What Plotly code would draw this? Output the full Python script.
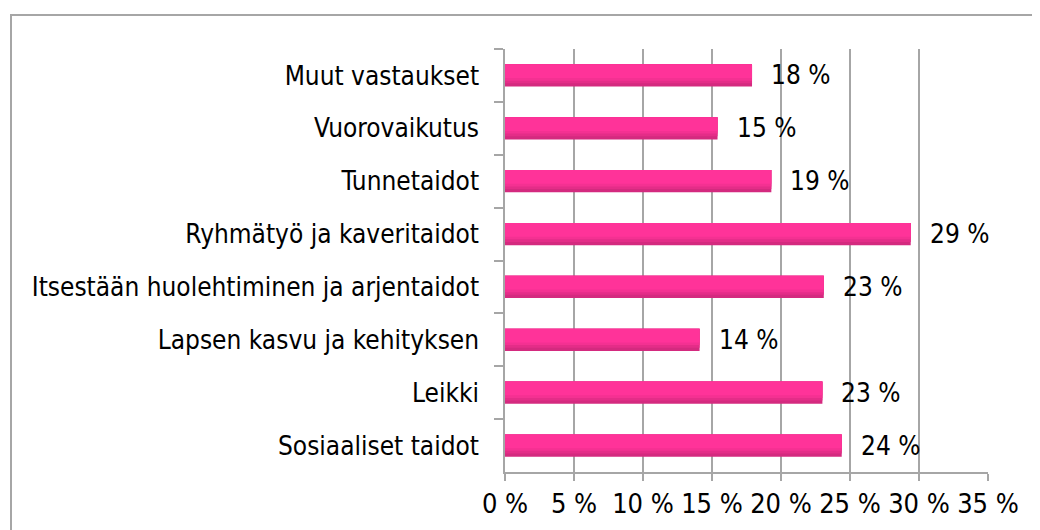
import plotly.graph_objects as go

categories = ["Muut vastaukset", "Vuorovaikutus", "Tunnetaidot", "Ryhmätyö ja kaveritaidot",
              "Itsestään huolehtiminen ja arjentaidot", "Lapsen kasvu ja kehityksen",
              "Leikki", "Sosiaaliset taidot"]
values = [0.179, 0.154, 0.193, 0.294, 0.231, 0.141, 0.230, 0.244]
tick_vals = [0, 0.05, 0.10, 0.15, 0.20, 0.25, 0.30, 0.35]
tick_text = ["0 %", "5 %", "10 %", "15 %", "20 %", "25 %", "30 %", "35 %"]
labels = [f"{round(v * 100)} %" for v in values]

FONT = "DejaVu Sans Condensed, DejaVu Sans, sans-serif"
GREY = "#A6A6A6"

W, H = 1040, 530
OFF = 8  # page body margin
L, R, T, B = 505 - OFF, W - (988 - OFF), 49 - OFF, H - (472 - OFF)
pw, ph = W - L - R, H - T - B

fig = go.Figure()
# gradient-like bar layers (dark base, brighter top parts)
layers = [("#D42A7F", 0.42), ("#E42D88", 0.36), ("#F43192", 0.31), ("#FF3399", 0.26)]
for col, wdt in layers:
    fig.add_trace(go.Bar(
        y=categories, x=values, orientation="h",
        marker=dict(color=col, line=dict(width=0)),
        width=wdt, offset=-0.21, hoverinfo="skip",
    ))

for c, v, t in zip(categories, values, labels):
    fig.add_annotation(x=v, y=c, text=t, showarrow=False, xanchor="left",
                       xshift=17, font=dict(family=FONT, size=26, color="#000"))

def px2x(p):
    return (p - OFF - L) / pw

def py2y(p):
    return (H - B - (p - OFF)) / ph

fig.add_shape(type="rect", xref="paper", yref="paper",
              x0=px2x(11), x1=px2x(1070), y0=py2y(15), y1=py2y(570),
              line=dict(color=GREY, width=2), fillcolor="rgba(0,0,0,0)", layer="below")

fig.update_layout(
    width=W, height=H,
    margin=dict(l=L, r=R, t=T, b=B),
    paper_bgcolor="white", plot_bgcolor="white",
    showlegend=False, barmode="overlay",
    font=dict(family=FONT, size=26, color="#000"),
    xaxis=dict(range=[0, 0.35], tickvals=tick_vals, ticktext=tick_text,
               tickfont=dict(size=27),
               showgrid=True, gridcolor=GREY, gridwidth=1.5,
               showline=True, linecolor=GREY, linewidth=1.5,
               ticks="outside", ticklen=7, tickcolor=GREY, tickwidth=1.5,
               zeroline=False, fixedrange=True),
    yaxis=dict(autorange="reversed", categoryorder="array", categoryarray=categories,
               showline=True, linecolor=GREY, linewidth=1.5,
               ticks="outside", ticklen=9, tickcolor=GREY, tickwidth=1.5,
               tickson="boundaries", showgrid=False, ticklabelstandoff=19,
               fixedrange=True),
)

fig.write_html("out.html")
